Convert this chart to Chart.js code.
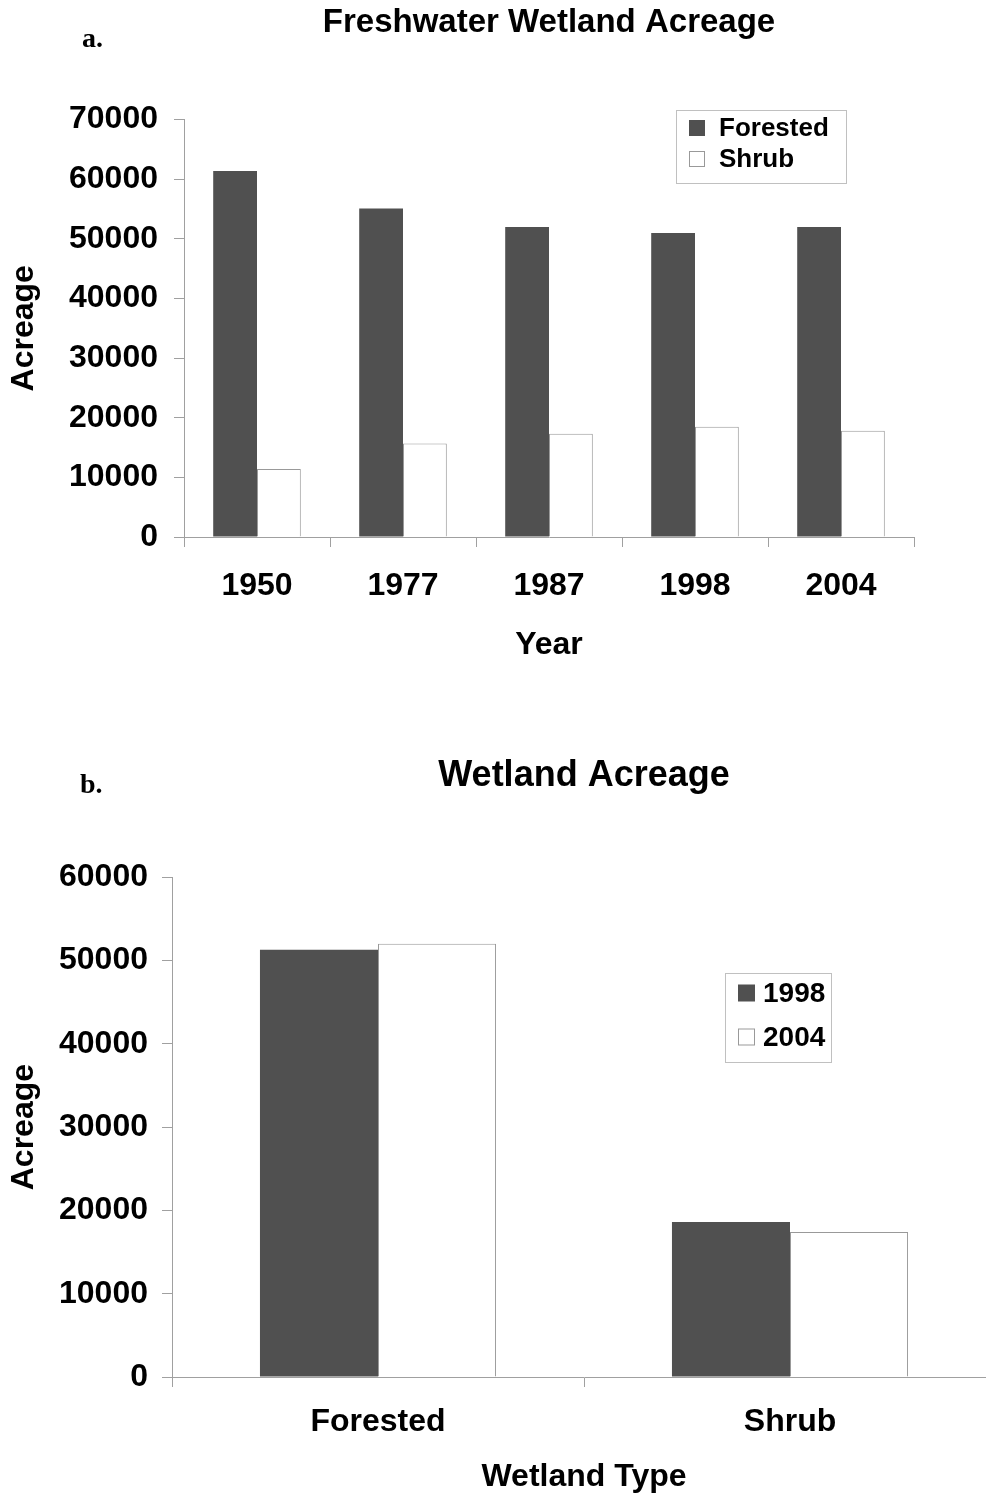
<!DOCTYPE html>
<html>
<head>
<meta charset="utf-8">
<script src="https://cdn.jsdelivr.net/npm/chart.js@4"></script>
<style>
  body { margin: 0; background: #fff; }
  #page { position: relative; width: 986px; height: 1495px; overflow: hidden; }
  .panel { position: absolute; left: 0; }
  .tag { position: absolute; font: bold 28px "Liberation Serif", "Times New Roman", serif; color: #000; }
</style>
</head>
<body>
<div id="page">
  <canvas id="chartA" class="panel" style="top:0" width="986" height="690"></canvas>
  <canvas id="chartB" class="panel" style="top:700px" width="1000" height="795"></canvas>
  <div class="tag" style="left:82px; top:22px">a.</div>
  <div class="tag" style="left:80px; top:768px">b.</div>
</div>
<script>
// Data for panel a
const yearsA = ['1950', '1977', '1987', '1998', '2004'];
const forestedA = [61400, 55100, 52000, 51000, 52000];
const shrubA = [11400, 15700, 17300, 18500, 17800];
const maxA = 70000;

// Data for panel b
const typesB = ['Forested', 'Shrub'];
const acres1998 = [51300, 18600];
const acres2004 = [52000, 17400];
const maxB = 60000;

const tickStep = 10000;
const FONT = '"Liberation Sans", Arial, sans-serif';
const DARK = '#505050';
const AXIS = '#a0a0a0';

// simple box legend drawn at a fixed spot
const boxLegend = {
    id: 'boxLegend',
    afterDraw(chart, args, opts) {
        const ctx = chart.ctx;
        ctx.save();
        ctx.strokeStyle = '#c0c0c0';
        ctx.lineWidth = 1;
        ctx.strokeRect(opts.x + 0.5, opts.y + 0.5, opts.w, opts.h);
        ctx.font = 'bold ' + opts.size + 'px ' + FONT;
        ctx.textBaseline = 'middle';
        chart.data.datasets.forEach((ds, i) => {
            const cy = opts.y + opts.first + i * opts.gap;
            const s = opts.box;
            ctx.fillStyle = ds.backgroundColor;
            ctx.fillRect(opts.x + opts.pad, cy - s / 2, s, s);
            if (ds.borderWidth) {
                ctx.strokeStyle = ds.borderColor;
                ctx.strokeRect(opts.x + opts.pad + 0.5, cy - s / 2 + 0.5, s - 1, s - 1);
            }
            ctx.fillStyle = '#000';
            ctx.fillText(ds.label, opts.x + opts.pad + s + opts.textGap, cy + 1);
        });
        ctx.restore();
    }
};

function makeChart(id, cfg) {
    return new Chart(document.getElementById(id), {
        type: 'bar',
        data: {
            labels: cfg.labels,
            datasets: cfg.series.map((s, i) => ({
                label: s.label,
                data: s.data,
                backgroundColor: i === 0 ? DARK : '#ffffff',
                borderColor: i === 0 ? DARK : '#999999',
                borderWidth: i === 0 ? 0 : 1,
                barPercentage: 1.0,
                categoryPercentage: cfg.catPct
            }))
        },
        options: {
            responsive: false,
            animation: false,
            layout: { padding: { top: 0, right: cfg.padRight, bottom: 0, left: 0 } },
            plugins: {
                legend: { display: false },
                tooltip: { enabled: false },
                title: {
                    display: true,
                    fullSize: false,
                    text: cfg.title,
                    color: '#000',
                    font: { family: FONT, size: cfg.titleSize, weight: 'bold', lineHeight: 1.2 },
                    padding: cfg.titlePad
                },
                boxLegend: cfg.legend
            },
            scales: {
                x: {
                    grid: { display: true, drawOnChartArea: false, color: AXIS, tickLength: 10, offset: true },
                    border: { display: true, color: AXIS },
                    ticks: { color: '#000', font: { family: FONT, size: 32, weight: 'bold' }, padding: cfg.xTickPad, maxRotation: 0 },
                    title: {
                        display: true, text: cfg.xTitle, color: '#000',
                        font: { family: FONT, size: 32, weight: 'bold', lineHeight: 1.1 },
                        padding: { top: 0, bottom: cfg.xTitlePad }
                    },
                    afterFit(scale) { scale.height = cfg.xHeight; }
                },
                y: {
                    min: 0,
                    max: cfg.max,
                    grid: { display: true, drawOnChartArea: false, color: AXIS, tickLength: 10 },
                    border: { display: true, color: AXIS },
                    ticks: {
                        stepSize: tickStep, color: '#000', padding: cfg.yTickPad,
                        font: { family: FONT, size: 32, weight: 'bold' },
                        callback: v => String(v)
                    },
                    title: {
                        display: true, text: 'Acreage', color: '#000',
                        font: { family: FONT, size: 32, weight: 'bold', lineHeight: 1.1 },
                        padding: { top: 7, bottom: 0 }
                    },
                    afterFit(scale) { scale.width = cfg.yWidth; }
                }
            }
        },
        plugins: [boxLegend]
    });
}

makeChart('chartA', {
    labels: yearsA,
    series: [{ label: 'Forested', data: forestedA }, { label: 'Shrub', data: shrubA }],
    catPct: 0.6,
    max: maxA,
    title: 'Freshwater Wetland Acreage',
    titleSize: 33,
    titlePad: { top: 3, bottom: 77 },
    padRight: 72,
    yWidth: 184,
    yTickPad: 16,
    xHeight: 153,
    xTickPad: 20,
    xTitle: 'Year',
    xTitlePad: 27,
    legend: { x: 676, y: 110, w: 170, h: 73, pad: 13, box: 16, textGap: 14, first: 18, gap: 31, size: 26 }
});

// panel b runs past the right edge of the page, like the original
makeChart('chartB', {
    labels: typesB,
    series: [{ label: '1998', data: acres1998 }, { label: '2004', data: acres2004 }],
    catPct: 0.573,
    max: maxB,
    title: 'Wetland Acreage',
    titleSize: 36,
    titlePad: { top: 54, bottom: 80 },
    padRight: 4,
    yWidth: 172,
    yTickPad: 14,
    xHeight: 118,
    xTickPad: 16,
    xTitle: 'Wetland Type',
    xTitlePad: 0,
    legend: { x: 725, y: 273, w: 106, h: 89, pad: 13, box: 17, textGap: 8, first: 20, gap: 44, size: 28 }
});
</script>
</body>
</html>
